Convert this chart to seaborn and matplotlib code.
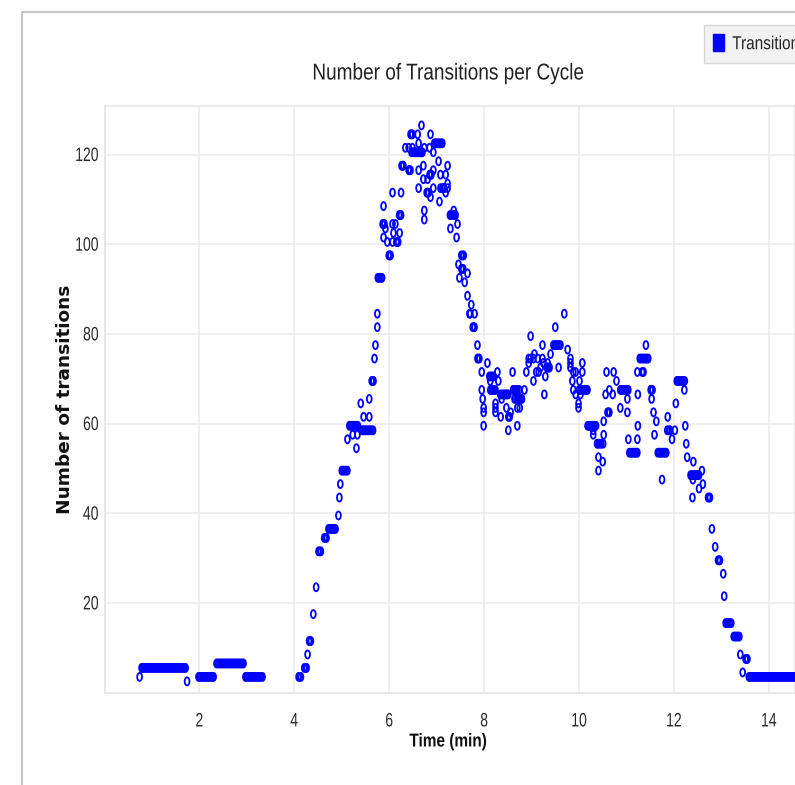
import matplotlib
matplotlib.use("Agg")
import matplotlib.pyplot as plt
from matplotlib.path import Path
from matplotlib.markers import MarkerStyle
from matplotlib.transforms import Affine2D
from matplotlib.patches import Patch
from matplotlib.lines import Line2D
from matplotlib.patheffects import AbstractPathEffect
import pandas as pd
import seaborn as sns

# (time in minutes, transitions in that cycle), grouped by phase of the run
idle = [(0.74, 3),
        (0.78, 5), (0.81, 5), (0.84, 5), (0.87, 5), (0.90, 5), (0.93, 5), (0.96, 5), (0.99, 5),
        (1.02, 5), (1.05, 5), (1.08, 5), (1.11, 5), (1.14, 5), (1.17, 5), (1.20, 5), (1.23, 5),
        (1.26, 5), (1.29, 5), (1.32, 5), (1.35, 5), (1.38, 5), (1.41, 5), (1.44, 5), (1.47, 5),
        (1.50, 5), (1.53, 5), (1.56, 5), (1.59, 5), (1.62, 5), (1.65, 5), (1.68, 5), (1.71, 5),
        (1.74, 2),
        (1.98, 3), (2.01, 3), (2.04, 3), (2.07, 3), (2.10, 3), (2.13, 3), (2.16, 3), (2.19, 3),
        (2.22, 3), (2.25, 3), (2.28, 3), (2.30, 3),
        (2.36, 6), (2.39, 6), (2.42, 6), (2.45, 6), (2.48, 6), (2.51, 6), (2.54, 6), (2.57, 6),
        (2.60, 6), (2.63, 6), (2.66, 6), (2.69, 6), (2.72, 6), (2.75, 6), (2.78, 6), (2.81, 6),
        (2.84, 6), (2.87, 6), (2.90, 6), (2.93, 6),
        (2.97, 3), (3.00, 3), (3.03, 3), (3.06, 3), (3.09, 3), (3.12, 3), (3.15, 3), (3.18, 3),
        (3.21, 3), (3.24, 3), (3.27, 3), (3.30, 3), (3.33, 3)]

rise = [(4.09, 3), (4.12, 3), (4.14, 3), (4.21, 5), (4.24, 5), (4.26, 5), (4.28, 8),
        (4.31, 11), (4.33, 11), (4.35, 11), (4.40, 17), (4.46, 23),
        (4.51, 31), (4.54, 31), (4.56, 31), (4.63, 34), (4.66, 34), (4.68, 34),
        (4.72, 36), (4.75, 36), (4.78, 36), (4.81, 36), (4.84, 36), (4.87, 36),
        (4.93, 39), (4.95, 43), (4.97, 46),
        (5.00, 49), (5.03, 49), (5.06, 49), (5.09, 49), (5.12, 49),
        (5.12, 56), (5.31, 54),
        (5.16, 59), (5.19, 59), (5.22, 59), (5.25, 59), (5.28, 59), (5.31, 59), (5.34, 59),
        (5.23, 57), (5.33, 57),
        (5.42, 58), (5.45, 58), (5.48, 58), (5.51, 58), (5.54, 58), (5.57, 58), (5.60, 58),
        (5.63, 58), (5.66, 58),
        (5.40, 64), (5.58, 65), (5.46, 61), (5.58, 61), (5.63, 69), (5.65, 69), (5.67, 69),
        (5.69, 74), (5.71, 77), (5.75, 81), (5.75, 84),
        (5.76, 92), (5.79, 92), (5.82, 92), (5.85, 92), (5.99, 97), (6.01, 97), (6.03, 97),
        (5.88, 108), (6.07, 111), (6.25, 111), (6.21, 106), (6.23, 106), (6.25, 106),
        (5.86, 104), (5.88, 104), (5.90, 104), (6.07, 104), (6.13, 104), (5.92, 103), (5.88, 101),
        (6.09, 102), (6.22, 102), (5.96, 100), (6.07, 100), (6.15, 100), (6.17, 100), (6.19, 100)]

peak = [(6.68, 126), (6.87, 124), (6.60, 124), (6.45, 124), (6.47, 124), (6.49, 124),
        (6.95, 122), (6.98, 122), (7.01, 122), (7.04, 122), (7.07, 122), (7.10, 122), (7.12, 122),
        (6.34, 121), (6.41, 121), (6.49, 121),
        (6.47, 120), (6.50, 120), (6.53, 120), (6.56, 120), (6.59, 120), (6.62, 120), (6.65, 120),
        (6.68, 120), (6.70, 120),
        (6.62, 122), (6.85, 121), (6.74, 121), (6.93, 120),
        (6.26, 117), (6.28, 117), (6.30, 117), (6.41, 116), (6.43, 116), (6.45, 116), (6.62, 116),
        (6.72, 117), (7.04, 118), (7.23, 117), (6.93, 116), (6.85, 115), (6.87, 115), (6.89, 115),
        (7.08, 115), (7.19, 115), (6.81, 114), (6.72, 114), (7.23, 113),
        (7.12, 112), (7.14, 112), (7.16, 112), (7.23, 112), (6.62, 112),
        (6.79, 111), (6.81, 111), (6.83, 111), (6.93, 112), (7.08, 112), (6.87, 110), (7.06, 109),
        (7.19, 111), (6.74, 107), (6.74, 105)]

fall = [(7.28, 106), (7.31, 106), (7.34, 106), (7.37, 106), (7.40, 106), (7.36, 107),
        (7.29, 103), (7.44, 104), (7.42, 101), (7.52, 97), (7.55, 97), (7.57, 97), (7.46, 95),
        (7.52, 94), (7.54, 94), (7.56, 94), (7.65, 93), (7.48, 92), (7.59, 91), (7.65, 88),
        (7.73, 86), (7.69, 84), (7.71, 84), (7.80, 84), (7.76, 81), (7.78, 81), (7.80, 81),
        (7.86, 77), (7.86, 74), (7.88, 74), (7.90, 74)]

mid = [(8.07, 73), (7.95, 71), (8.28, 71), (8.60, 71),
       (8.11, 70), (8.14, 70), (8.17, 70), (8.20, 70), (8.30, 69), (8.13, 69), (7.95, 67),
       (8.13, 67), (8.16, 67), (8.19, 67), (8.22, 67), (8.24, 67),
       (8.34, 66), (8.37, 66), (8.40, 66), (8.43, 66), (8.46, 66), (8.49, 66), (8.51, 66),
       (8.61, 67), (8.64, 67), (8.67, 67), (8.70, 67), (8.74, 67), (8.85, 67),
       (7.97, 65), (7.99, 63), (7.99, 62), (8.24, 64), (8.24, 63), (8.24, 62), (8.37, 65),
       (8.47, 63), (8.56, 62), (8.35, 61), (8.54, 61), (8.51, 61), (7.99, 59), (8.51, 58),
       (8.70, 59), (8.68, 65), (8.71, 65), (8.74, 65), (8.77, 65), (8.80, 65), (8.64, 65),
       (8.75, 63), (8.70, 63),
       (8.89, 71), (8.98, 79), (8.94, 74), (9.04, 74), (9.13, 74), (9.04, 69), (9.15, 71),
       (9.25, 73), (9.32, 72), (9.29, 70), (9.40, 75), (9.23, 77), (9.27, 66), (9.38, 72),
       (9.57, 72), (9.50, 81), (9.69, 84),
       (9.46, 77), (9.49, 77), (9.52, 77), (9.55, 77), (9.58, 77), (9.61, 77),
       (9.76, 76), (9.82, 74), (9.82, 72), (9.88, 71), (9.86, 69), (10.07, 73), (10.07, 71),
       (9.88, 67), (10.01, 69),
       (10.00, 67), (10.03, 67), (10.06, 67), (10.09, 67), (10.12, 67), (10.15, 67), (10.18, 67),
       (9.99, 64), (9.99, 63), (10.03, 66), (9.93, 66), (9.93, 71), (9.82, 73), (9.23, 74),
       (9.34, 73), (9.34, 72), (9.19, 72), (9.36, 72), (9.10, 71), (8.98, 74), (9.06, 75),
       (8.94, 73)]

late = [(10.18, 59), (10.21, 59), (10.24, 59), (10.27, 59), (10.30, 59), (10.33, 59), (10.36, 59),
        (10.30, 58), (10.30, 57),
        (10.38, 55), (10.41, 55), (10.44, 55), (10.47, 55), (10.51, 55),
        (10.41, 52), (10.50, 51), (10.41, 49), (10.52, 57), (10.52, 60), (10.58, 71), (10.64, 67),
        (10.60, 62), (10.62, 62), (10.64, 62), (10.73, 71), (10.79, 69), (10.56, 66), (10.71, 66),
        (10.87, 67), (10.90, 67), (10.93, 67), (10.96, 67), (10.99, 67), (11.02, 67), (11.04, 67),
        (10.87, 63), (11.02, 65), (11.02, 62), (11.04, 56), (11.23, 56),
        (11.06, 53), (11.09, 53), (11.12, 53), (11.15, 53), (11.18, 53), (11.21, 53), (11.23, 53),
        (11.24, 66), (11.24, 59), (11.33, 71), (11.41, 77),
        (11.28, 74), (11.31, 74), (11.34, 74), (11.37, 74), (11.40, 74), (11.43, 74), (11.46, 74),
        (11.36, 71), (11.23, 71), (11.51, 67), (11.53, 67), (11.55, 67), (11.53, 65), (11.57, 62),
        (11.63, 60), (11.59, 57),
        (11.66, 53), (11.69, 53), (11.72, 53), (11.75, 53), (11.78, 53), (11.81, 53), (11.84, 53),
        (11.75, 47), (11.86, 58), (11.89, 58), (11.92, 58), (11.96, 56), (11.87, 61), (12.02, 58),
        (12.04, 64),
        (12.06, 69), (12.09, 69), (12.12, 69), (12.15, 69), (12.18, 69), (12.21, 69), (12.23, 69),
        (12.22, 67), (12.24, 59), (12.26, 55), (12.28, 52), (12.41, 51)]

tail = [(12.35, 48), (12.38, 48), (12.41, 48), (12.44, 48), (12.47, 48), (12.50, 48), (12.53, 48),
        (12.59, 49), (12.40, 47), (12.61, 46), (12.53, 45), (12.39, 43),
        (12.72, 43), (12.74, 43), (12.76, 43), (12.80, 36), (12.87, 32),
        (12.93, 29), (12.95, 29), (12.97, 29), (13.04, 26), (13.06, 21),
        (13.09, 15), (13.12, 15), (13.15, 15), (13.18, 15), (13.21, 15),
        (13.26, 12), (13.29, 12), (13.32, 12), (13.35, 12), (13.38, 12),
        (13.40, 8), (13.51, 7), (13.53, 7), (13.55, 7), (13.45, 4),
        (13.58, 3), (13.61, 3), (13.64, 3), (13.67, 3), (13.70, 3), (13.73, 3), (13.76, 3),
        (13.79, 3), (13.82, 3), (13.85, 3), (13.88, 3), (13.91, 3), (13.94, 3), (13.97, 3),
        (14.00, 3), (14.03, 3), (14.06, 3), (14.09, 3), (14.12, 3), (14.15, 3), (14.18, 3),
        (14.21, 3), (14.24, 3), (14.27, 3), (14.30, 3), (14.33, 3), (14.36, 3), (14.39, 3),
        (14.42, 3), (14.45, 3), (14.48, 3), (14.51, 3), (14.54, 3), (14.57, 3), (14.60, 3)]

x_ticks = [2, 4, 6, 8, 10, 12, 14]
y_ticks = [20, 40, 60, 80, 100, 120]
title = "Number of Transitions per Cycle"
series_name = "Transitions"

BLUE = "#0000ff"
FONT = "Liberation Sans"


class Squeeze(AbstractPathEffect):
    """Draw text glyphs horizontally condensed about a chosen anchor."""

    def __init__(self, sx, anchor="center"):
        super().__init__()
        self.sx = sx
        self.anchor = anchor

    def draw_path(self, renderer, gc, tpath, affine, rgbFace=None):
        ext = tpath.get_extents()
        cx = {"left": ext.x0, "right": ext.x1}.get(self.anchor, 0.5 * (ext.x0 + ext.x1))
        squeeze = Affine2D().translate(-cx, 0).scale(self.sx, 1.0).translate(cx, 0)
        renderer.draw_path(gc, tpath, squeeze + affine, rgbFace)


sns.set_style("whitegrid")
plt.rcParams["font.family"] = [FONT, "DejaVu Sans"]

df = pd.DataFrame(idle + rise + peak + fall + mid + late + tail,
                  columns=["Time (min)", "Transitions"])

W, H = 795, 785
fig = plt.figure(figsize=(W / 100, H / 100), dpi=100)
fig.patch.set_facecolor("white")

# plot area in pixels: left 104.5, bottom 692.6, top 106, runs off the right edge
x0, y0, ytop = 104.5, 692.6, 106.0
ax = fig.add_axes([x0 / W, (H - y0) / H, (W - x0) / W, (y0 - ytop) / H])
ax.set_facecolor("white")

# narrow "0"-like oval marker, sitting slightly above its value
oval = MarkerStyle(Affine2D().scale(0.6, 1.0).translate(0, 0.56).transform_path(Path.unit_circle()))

sns.scatterplot(data=df, x="Time (min)", y="Transitions", ax=ax, marker=oval, s=81,
                facecolor="none", edgecolor=BLUE, linewidth=1.3, legend=False, zorder=3)
pts = ax.collections[0]
pts.set_facecolor("none")
pts.set_edgecolor(BLUE)
pts.set_linewidth(1.3)

ax.set_xlim(0, (W - x0) / 47.45)
ax.set_ylim(0, (y0 - ytop) / 4.484)
ax.set_xticks(x_ticks)
ax.set_yticks(y_ticks)
ax.grid(True, color="#ebebeb", linewidth=1.1)
ax.set_axisbelow(True)
for sp in ax.spines.values():
    sp.set_color("#e2e2e2")
    sp.set_linewidth(1.1)

ax.tick_params(axis="both", length=0, labelsize=14, labelcolor="#2a2a2a")
ax.tick_params(axis="x", pad=15)
ax.tick_params(axis="y", pad=4)
for tick in ax.xaxis.get_major_ticks():
    tick.label1.set_path_effects([Squeeze(0.72, "center")])
for tick in ax.yaxis.get_major_ticks():
    tick.label1.set_path_effects([Squeeze(0.72, "right")])

ax.set_xlabel("Time (min)", fontsize=13.5, fontweight="bold", color="#111111", family=FONT)
ax.xaxis.label.set_verticalalignment("center")
ax.xaxis.label.set_path_effects([Squeeze(0.82, "center")])
ax.xaxis.set_label_coords((448 - x0) / (W - x0), (y0 - 742) / (y0 - ytop))

ax.set_ylabel("Number of transitions", fontsize=13.3, fontweight="bold", color="#111111",
              family="DejaVu Sans")
ax.yaxis.label.set_verticalalignment("center")
ax.yaxis.set_label_coords((65 - x0) / (W - x0), 0.5)

fig.text(448 / W, 1 - 73 / H, title, ha="center", va="center", fontsize=16.5,
         color="#222222", family=FONT, path_effects=[Squeeze(0.83, "center")])

leg = fig.legend(handles=[Patch(facecolor=BLUE, edgecolor=BLUE, label=series_name)],
                 loc="upper left", bbox_to_anchor=(704 / W, 1 - 25 / H), borderaxespad=0,
                 frameon=True, fancybox=False, facecolor="#f2f2f2", edgecolor="#d6d6d6",
                 framealpha=1, borderpad=0.5, handlelength=0.55, handleheight=1.0,
                 handletextpad=0.45, prop={"family": FONT, "size": 13.5})
for txt in leg.get_texts():
    txt.set_path_effects([Squeeze(0.82, "left")])

# panel frame along the top and left
fig.add_artist(Line2D([22 / W, 22 / W], [0, 1 - 12 / H], transform=fig.transFigure,
                      color="#c6c6c6", linewidth=1.5))
fig.add_artist(Line2D([22 / W, 1], [1 - 12 / H, 1 - 12 / H], transform=fig.transFigure,
                      color="#c6c6c6", linewidth=1.5))

fig.savefig("out.png", dpi=100)
